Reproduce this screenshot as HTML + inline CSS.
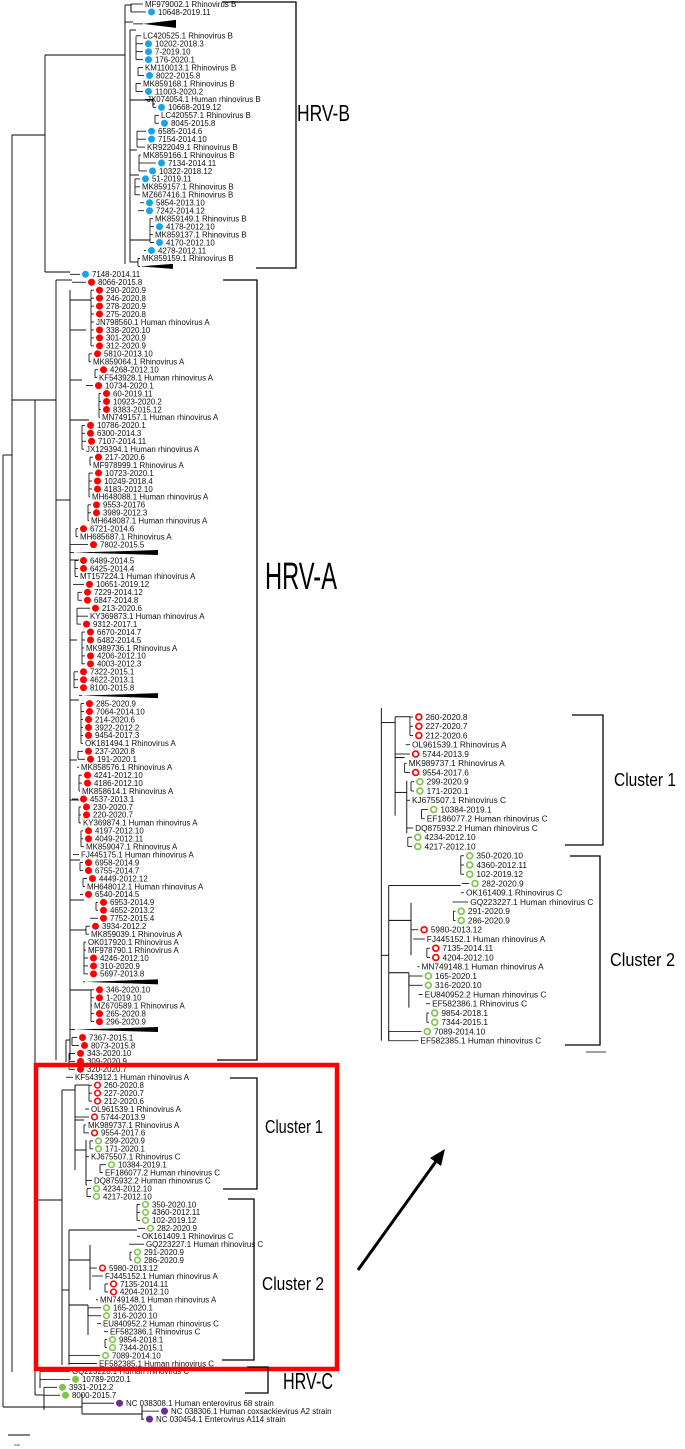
<!DOCTYPE html>
<html><head><meta charset="utf-8">
<style>
html,body{margin:0;padding:0;background:#fff;}
svg{display:block;font-family:"Liberation Sans",sans-serif;}
</style></head>
<body>
<svg id="tree" width="685" height="1449" viewBox="0 0 685 1449" xmlns="http://www.w3.org/2000/svg">
<g id="main"></g>
<g id="inset"></g>
<g id="annot">
  <polyline points="222,2 296,2 296,268 256,268" fill="none" stroke="#000" stroke-width="1.3"/>
  <text x="297" y="121" font-size="23" textLength="53" lengthAdjust="spacingAndGlyphs">HRV-B</text>
  <polyline points="223,280 257,280 257,1060 217,1060" fill="none" stroke="#000" stroke-width="1.3"/>
  <text x="265" y="589" font-size="38" textLength="72" lengthAdjust="spacingAndGlyphs">HRV-A</text>
  <polyline points="230,1078 257,1078 257,1189 223,1189" fill="none" stroke="#000" stroke-width="1.3"/>
  <text x="265" y="1133" font-size="18" textLength="58" lengthAdjust="spacingAndGlyphs">Cluster 1</text>
  <polyline points="228,1199 254,1199 254,1360 222,1360" fill="none" stroke="#000" stroke-width="1.3"/>
  <text x="262" y="1290" font-size="18" textLength="62" lengthAdjust="spacingAndGlyphs">Cluster 2</text>
  <rect x="36" y="1065" width="301" height="304" fill="none" stroke="#ff0000" stroke-width="4.5"/>
  <polyline points="247,1367 268,1367 268,1393 245,1393" fill="none" stroke="#000" stroke-width="1.3"/>
  <text x="283" y="1389" font-size="23" textLength="50" lengthAdjust="spacingAndGlyphs">HRV-C</text>
  <line x1="8" y1="1435" x2="30" y2="1435" stroke="#000" stroke-width="1"/>
  <text x="14" y="1446" font-size="3">0.20</text>
  <polyline points="572,715 603,715 603,845 565,845" fill="none" stroke="#000" stroke-width="1.3"/>
  <text x="614" y="786" font-size="18" textLength="62" lengthAdjust="spacingAndGlyphs">Cluster 1</text>
  <polyline points="570,856 600,856 600,1045 565,1045" fill="none" stroke="#000" stroke-width="1.3"/>
  <text x="610" y="966" font-size="18" textLength="65" lengthAdjust="spacingAndGlyphs">Cluster 2</text>
  <line x1="586" y1="1052" x2="606" y2="1052" stroke="#000" stroke-width="0.8"/>
  <line x1="358" y1="1270" x2="437" y2="1160" stroke="#000" stroke-width="3"/>
  <polygon points="445,1149 430,1158 441,1166" fill="#000"/>
</g>
</svg>
<script>
const names=["MF979002.1 Rhinovirus B","10648-2019.11","","LC420525.1 Rhinovirus B","10202-2018.3","7-2019.10","176-2020.1","KM110013.1 Rhinovirus B","8022-2015.8","MK859168.1 Rhinovirus B","11003-2020.2","JX074054.1 Human rhinovirus B","10668-2019.12","LC420557.1 Rhinovirus B","8045-2015.8","6585-2014.6","7154-2014.10","KR922049.1 Rhinovirus B","MK859166.1 Rhinovirus B","7134-2014.11","10322-2018.12","51-2019.11","MK859157.1 Rhinovirus B","MZ667416.1 Rhinovirus B","5854-2013.10","7242-2014.12","MK859149.1 Rhinovirus B","4178-2012.10","MK859137.1 Rhinovirus B","4170-2012.10","4278-2012.11","MK859159.1 Rhinovirus B","","7148-2014.11",
"8066-2015.8","290-2020.9","246-2020.8","278-2020.9","275-2020.8","JN798560.1 Human rhinovirus A","338-2020.10","301-2020.9","312-2020.9","5810-2013.10","MK859064.1 Rhinovirus A","4268-2012.10","KF543928.1 Human rhinovirus A","10734-2020.1","60-2019.11","10923-2020.2","8383-2015.12","MN749157.1 Human rhinovirus A","10786-2020.1","6300-2014.3","7107-2014.11","JX129394.1 Human rhinovirus A","217-2020.6","MF978999.1 Rhinovirus A","10723-2020.1","10249-2018.4","4183-2012.10","MH648088.1 Human rhinovirus A","9553-20176","3989-2012.3","MH648087.1 Human rhinovirus A","6721-2014.6","MH685687.1 Rhinovirus A","7802-2015.5","","6489-2014.5","6425-2014.4","MT157224.1 Human rhinovirus A","10651-2019.12","7229-2014.12","6847-2014.8","213-2020.6","KY369873.1 Human rhinovirus A","9312-2017.1","6670-2014.7","6482-2014.5","MK989736.1 Rhinovirus A","4206-2012.10","4003-2012.3","7322-2015.1","4622-2013.1","8100-2015.8","","285-2020.9","7064-2014.10","214-2020.6","3922-2012.2","9454-2017.3","OK181494.1 Rhinovirus A","237-2020.8","191-2020.1","MK858576.1 Rhinovirus A","4241-2012.10","4186-2012.10","MK858614.1 Rhinovirus A","4537-2013.1","230-2020.7","220-2020.7","KY369874.1 Human rhinovirus A","4197-2012.10","4049-2012.11","MK859047.1 Rhinovirus A","FJ445175.1 Human rhinovirus A","6958-2014.9","6755-2014.7","4449-2012.12","MH648012.1 Human rhinovirus A","6540-2014.5","6953-2014.9","4652-2013.2","7752-2015.4","3934-2012.2","MK859039.1 Rhinovirus A","OK017920.1 Rhinovirus A","MF978790.1 Rhinovirus A","4246-2012.10","310-2020.9","5697-2013.8","","346-2020.10","1-2019.10","MZ670589.1 Rhinovirus A","265-2020.8","296-2020.9","","7367-2015.1","8073-2015.8","343-2020.10","309-2020.9","320-2020.7","KF543912.1 Human rhinovirus A",
"260-2020.8","227-2020.7","212-2020.6","OL961539.1 Rhinovirus A","5744-2013.9","MK989737.1 Rhinovirus A","9554-2017.6","299-2020.9","171-2020.1","KJ675507.1 Rhinovirus C","10384-2019.1","EF186077.2 Human rhinovirus C","DQ875932.2 Human rhinovirus C","4234-2012.10","4217-2012.10",
"350-2020.10","4360-2012.11","102-2019.12","282-2020.9","OK161409.1 Rhinovirus C","GQ223227.1 Human rhinovirus C","291-2020.9","286-2020.9","5980-2013.12","FJ445152.1 Human rhinovirus A","7135-2014.11","4204-2012.10","MN749148.1 Human rhinovirus A","165-2020.1","316-2020.10","EU840952.2 Human rhinovirus C","EF582386.1 Rhinovirus C","9854-2018.1","7344-2015.1","7089-2014.10","EF582385.1 Human rhinovirus C",
"GQ223228.1 Human rhinovirus C","10789-2020.1","3931-2012.2","8000-2015.7","NC 038308.1 Human enterovirus 68 strain","NC 038306.1 Human coxsackievirus A2 strain","NC 030454.1 Enterovirus A114 strain"];
const types=["n","b","T","n","b","b","b","n","b","n","b","n","b","n","b","b","b","n","n","b","b","b","n","n","b","b","n","b","n","b","b","n","t","b",
"r","r","r","r","r","n","r","r","r","r","n","r","n","r","r","r","r","n","r","r","r","n","r","n","r","r","r","n","r","r","n","r","n","r","t","r","r","n","r","r","r","r","n","r","r","r","n","r","r","r","r","r","t","r","r","r","r","r","n","r","r","n","r","r","n","r","r","r","n","r","r","n","n","r","r","r","n","r","r","r","r","r","n","n","n","r","r","r","t","r","r","n","r","r","t","r","r","r","r","r","n",
"ro","ro","ro","n","ro","n","ro","go","go","n","go","n","n","go","go",
"go","go","go","go","n","n","go","go","ro","n","ro","ro","n","go","go","n","n","go","go","go","n",
"n","g","g","g","p","p","p"];
const tips=[143,146,143,141,143,143,143,143,144,141,143,145,156,159,159,146,146,145,141,156,147,140,140,140,144,144,153,154,153,154,146,140,140,80,
86,94,94,94,94,94,94,94,94,92,91,98,97,93,101,101,101,100,85,85,86,84,93,91,93,92,92,90,91,91,89,78,78,88,74,78,78,78,84,82,82,90,88,81,85,85,84,85,85,78,78,78,82,84,84,83,83,83,83,83,85,79,82,82,80,78,81,81,81,83,83,84,79,83,83,87,85,83,98,98,98,90,89,86,86,88,88,88,85,94,94,92,94,94,75,77,79,75,75,75,73,
92,92,92,89,89,86,89,93,93,89,106,103,92,91,91,
140,140,140,145,140,144,132,132,97,103,108,108,98,101,101,101,108,107,107,100,97,
70,70,57,60,114,159,144];
const parents=[131,131,133,136,136,136,136,138,138,136,136,153,153,155,155,137,137,137,139,139,139,135,135,135,140,138,150,150,150,150,144,138,138,70,
72,91,91,91,91,91,91,91,91,89,89,95,95,86,99,99,99,99,82,82,82,82,90,90,89,89,89,89,88,88,88,76,76,70,70,75,75,75,73,78,78,77,77,77,82,82,82,82,82,74,74,74,79,81,81,81,81,81,81,78,78,77,79,79,79,72,79,79,79,81,81,81,73,80,80,83,83,80,96,96,90,86,86,84,84,84,84,84,83,91,91,91,91,91,70,72,72,69,69,69,66,
89,89,89,85,75,84,84,90,90,86,100,100,86,87,87,
137,137,137,138,137,129,130,130,90,92,105,105,96,88,88,97,104,105,105,69,69,
40,40,44,44,82,142,142];
const colors={b:"#1aa3e6",r:"#ff0000",ro:"#ff0000",go:"#7ec44a",g:"#7ec44a",p:"#6b2f8e"};
const NS="http://www.w3.org/2000/svg";
const spacing=7.95, y0=4;
const ys=[];let slot=0;
for(let i=0;i<names.length;i++){ if(types[i]==="T"){ys.push(y0+(slot+0.5)*spacing);slot+=2;} else {ys.push(y0+slot*spacing);slot+=1;} }
function mk(tag,attrs,parent){const e=document.createElementNS(NS,tag);for(const k in attrs)e.setAttribute(k,attrs[k]);parent.appendChild(e);return e;}
function drawLeaves(g,from,to,X,Y,fs,r){
  for(let i=from;i<to;i++){
    const y=Y(ys[i]),t=X(tips[i]),p=X(parents[i]);const ty=types[i];
    const br=mk("line",{x1:p,y1:y,x2:t,y2:y,stroke:"#000","stroke-width":0.8},g);
    
    
    if(i+1<to && parents[i+1]===parents[i]){
      const v=mk("line",{x1:p,y1:y,x2:p,y2:Y(ys[i+1]),stroke:"#000","stroke-width":0.8},g);
      
      
    }
    if(ty==="T"||ty==="t"){
      const w=ty==="T"?4:2.5;
      const end=X(tips[i]<100?158:tips[i]+33);
      const tri=mk("polygon",{points:`${t},${y} ${end},${y-w} ${end},${y+w}`,fill:"#000"},g);
      
      
      continue;
    }
    let tx=t+2;
    if(colors[ty]){
      const cx=t+r+2;
      const ring=(ty==="ro"||ty==="go");
      const c=mk("circle",ring?{cx:cx,cy:y,r:r*0.8,fill:"#fff",stroke:colors[ty],"stroke-width":r*0.45}:{cx:cx,cy:y,r:r,fill:colors[ty]},g);
      
      
      tx=cx+r+3;
    }
    const tt=mk("text",{x:tx,y:y+fs*0.36,"font-size":fs,fill:"#111"},g);
    tt.textContent=names[i];
    
    
  }
}
const main=document.getElementById("main");
drawLeaves(main,0,names.length,x=>x,y=>y,7.9,3.5);
const back=[[3,455,3,1407],[3,455,12,455],[12,135,12,1372],[12,135,45,135],[45,55,45,272],[45,272,70,272],[45,55,125,55],[125,5,125,264],[125,5,131,5],[131,4,131,12],[125,22,133,22],[130,30,130,262],[130,30,136,30],[130,100,153,100],[153,98,153,106],[153,104,155,104],[130,150,137,150],[130,175,139,175],[130,240,150,240],[130,262,138,262],
[12,400,35,400],[35,400,35,1395],[35,400,56,400],[56,280,56,1060],[56,280,72,280],[56,500,70,500],[70,290,70,1060],[70,300,91,300],[70,330,86,330],[70,380,82,380],[70,420,89,420],[70,560,79,560],[70,640,77,640],[70,700,79,700],[70,760,77,760],[70,800,79,800],[70,860,80,860],[70,900,84,900],[70,930,86,930],[70,990,91,990],[66,1040,70,1040],[66,1040,66,1062],
[35,1200,62,1200],[62,1090,62,1365],[62,1090,75,1090],[75,1085,75,1170],[75,1085,89,1085],[75,1120,84,1120],[75,1150,86,1150],[86,1140,86,1185],[86,1185,87,1185],[62,1290,69,1290],[69,1230,69,1365],[69,1230,137,1230],[69,1305,88,1305],[88,1305,88,1335],[69,1260,90,1260],[90,1245,90,1290],
[35,1395,40,1395],[40,1378,40,1388],[40,1395,44,1395],[44,1395,44,1410],[3,1407,82,1407],[82,1394,82,1414],[82,1414,142,1414],[142,1406,142,1420]];
for(const s of back){const l=mk("line",{x1:s[0],y1:s[1],x2:s[2],y2:s[3],stroke:"#000","stroke-width":0.9},main);

}
const inset=document.getElementById("inset");
const i0=names.indexOf("260-2020.8"), i1=names.indexOf("GQ223228.1 Human rhinovirus C");
const sx=1.06, sy=9.25/spacing;
const IX=x=>418-7+(x-90)*sx, IY=y=>717+(y-ys[i0])*sy;
drawLeaves(inset,i0,i1,IX,IY,8.3,3.7);
const ib=[[IX(62),708,IX(62),IY(ys[i1-1])],[IX(62),IY(1090),IX(75),IY(1090)],[IX(75),IY(1085),IX(75),IY(1170)],[IX(75),IY(1085),IX(89),IY(1085)],[IX(75),IY(1120),IX(84),IY(1120)],[IX(75),IY(1150),IX(86),IY(1150)],[IX(86),IY(1140),IX(86),IY(1185)],[IX(62),IY(1290),IX(69),IY(1290)],[IX(69),IY(1230),IX(69),IY(ys[i1-1])],[IX(69),IY(1230),IX(137),IY(1230)],[IX(69),IY(1305),IX(88),IY(1305)],[IX(88),IY(1305),IX(88),IY(1335)],[IX(69),IY(1260),IX(90),IY(1260)],[IX(90),IY(1245),IX(90),IY(1290)]];
for(const s of ib){const l=mk("line",{x1:s[0],y1:s[1],x2:s[2],y2:s[3],stroke:"#000","stroke-width":0.9},inset);

}
</script>
</body></html>
